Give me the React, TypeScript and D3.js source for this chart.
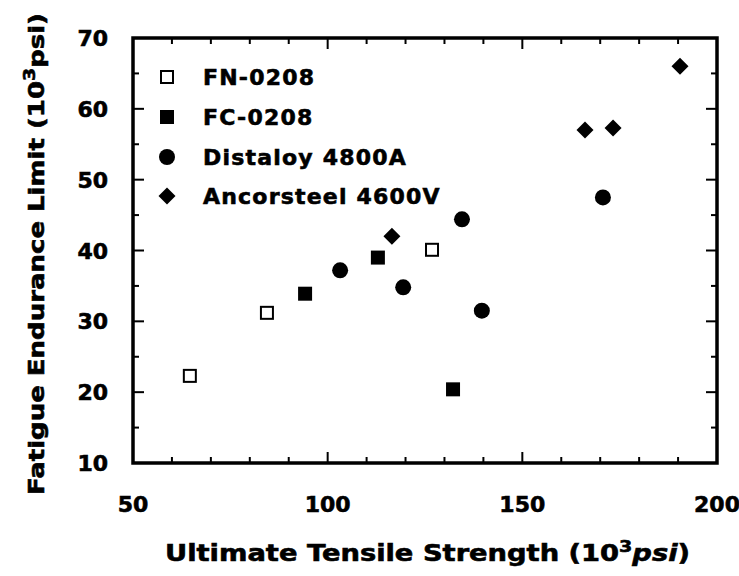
import React from "react";
import * as d3 from "d3";

// Ultimate tensile strength (10^3 psi) and fatigue endurance limit (10^3 psi)
const fnUts = [64.6, 84.4, 126.8];
const fnFel = [22.3, 31.2, 40.1];
const fcUts = [94.2, 112.9, 132.2];
const fcFel = [33.9, 39.0, 20.4];
const distUts = [103.2, 119.4, 134.5, 139.6, 170.7];
const distFel = [37.2, 34.8, 44.4, 31.5, 47.5];
const ancUts = [116.5, 166.1, 173.3, 190.5];
const ancFel = [42.0, 57.0, 57.3, 66.0];

const seriesNames = ["FN-0208", "FC-0208", "Distaloy 4800A", "Ancorsteel 4600V"];
const seriesShapes = ["openSquare", "square", "circle", "diamond"];

const xTicks = [50, 100, 150, 200];
const yTicks = [10, 20, 30, 40, 50, 60, 70];

const W = 739;
const H = 576;
const left = 133;
const right = 717;
const top = 38;
const bottom = 463;

const FONT = "'DejaVu Sans', Verdana, sans-serif";

function Marker({ shape, x, y }: { shape: string; x: number; y: number }) {
  if (shape === "openSquare") {
    return <rect x={x - 6} y={y - 6} width={12} height={12} fill="#fff" stroke="#000" strokeWidth={2} />;
  }
  if (shape === "square") {
    return <rect x={x - 7} y={y - 7} width={14} height={14} fill="#000" />;
  }
  if (shape === "circle") {
    return <circle cx={x} cy={y} r={8} fill="#000" />;
  }
  const s = 8.5;
  return <path d={`M${x},${y - s}L${x + s},${y}L${x},${y + s}L${x - s},${y}Z`} fill="#000" />;
}

export default function App() {
  const x = d3.scaleLinear().domain([50, 200]).range([left, right]);
  const y = d3.scaleLinear().domain([10, 70]).range([bottom, top]);

  const xMinor = d3.range(50, 201, 10);
  const yMinor = d3.range(10, 71, 5);

  const series = [
    { xs: fnUts, ys: fnFel },
    { xs: fcUts, ys: fcFel },
    { xs: distUts, ys: distFel },
    { xs: ancUts, ys: ancFel },
  ];

  const legendY = [77, 117, 157, 196];

  return (
    <svg
      width={W}
      height={H}
      style={{ position: "absolute", left: 0, top: 0, background: "#fff" }}
      fontFamily={FONT}
      fontWeight="bold"
    >
      <rect x={0} y={0} width={W} height={H} fill="#fff" />

      {/* ticks on all four sides, pointing inward */}
      {xMinor.map((v) => {
        const major = xTicks.includes(v);
        const len = major ? 11 : 6;
        return (
          <g key={"xt" + v} stroke="#000" strokeWidth={2}>
            <line x1={x(v)} x2={x(v)} y1={bottom} y2={bottom - len} />
            <line x1={x(v)} x2={x(v)} y1={top} y2={top + len} />
          </g>
        );
      })}
      {yMinor.map((v) => {
        const major = yTicks.includes(v);
        const len = major ? 11 : 6;
        return (
          <g key={"yt" + v} stroke="#000" strokeWidth={2}>
            <line x1={left} x2={left + len} y1={y(v)} y2={y(v)} />
            <line x1={right} x2={right - len} y1={y(v)} y2={y(v)} />
          </g>
        );
      })}

      {/* frame */}
      <rect x={left} y={top} width={right - left} height={bottom - top} fill="none" stroke="#000" strokeWidth={3.5} />

      <g stroke="#000" strokeWidth={0.6}>
        {/* tick labels */}
        {xTicks.map((v) => (
          <text key={"xl" + v} x={x(v)} y={512} textAnchor="middle" fontSize={22}>
            {v}
          </text>
        ))}
        {yTicks.map((v) => (
          <text key={"yl" + v} x={108} y={y(v) + 8} textAnchor="end" fontSize={22}>
            {v}
          </text>
        ))}

        {/* axis titles */}
        <text x={165} y={561} fontSize={23} textLength={525} lengthAdjust="spacingAndGlyphs">
          Ultimate Tensile Strength (10
          <tspan dy={-9} fontSize={16}>3</tspan>
          <tspan dy={9} fontStyle="italic">psi</tspan>)
        </text>
        <text
          transform="translate(44,495) rotate(-90)"
          fontSize={22}
          textLength={482}
          lengthAdjust="spacingAndGlyphs"
        >
          Fatigue Endurance Limit (10
          <tspan dy={-9} fontSize={16}>3</tspan>
          <tspan dy={9}>psi</tspan>)
        </text>

        {/* legend labels */}
        {seriesNames.map((name, i) => (
          <text key={"lt" + i} x={203} y={legendY[i] + 8} fontSize={22} letterSpacing={1.2}>
            {name}
          </text>
        ))}
      </g>

      {/* data */}
      {series.map((s, i) =>
        s.xs.map((v, j) => <Marker key={i + "-" + j} shape={seriesShapes[i]} x={x(v)} y={y(s.ys[j])} />)
      )}

      {/* legend markers */}
      {seriesShapes.map((shape, i) => (
        <Marker key={"lm" + i} shape={shape} x={167} y={legendY[i]} />
      ))}
    </svg>
  );
}
